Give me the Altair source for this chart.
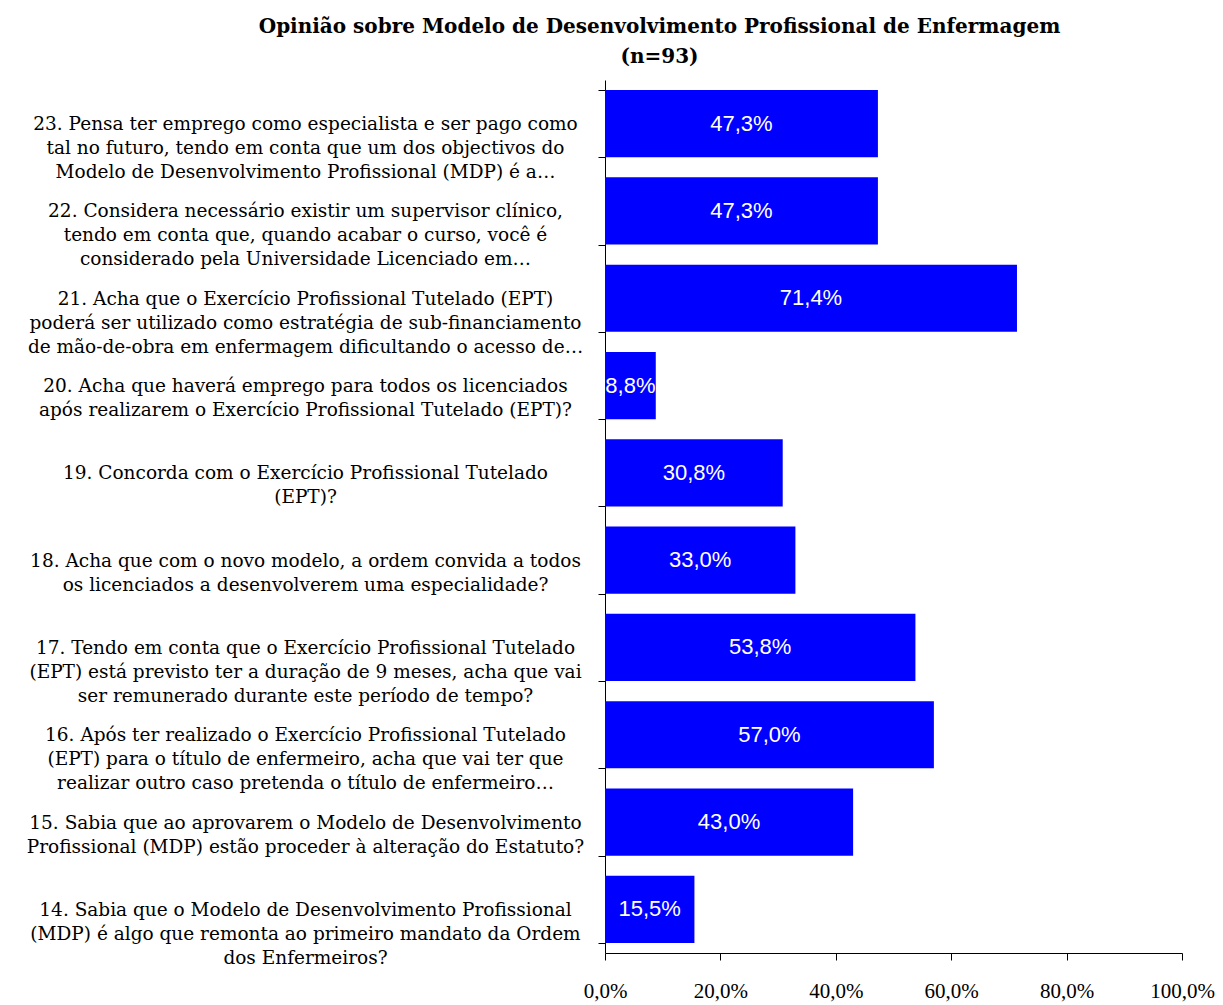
import altair as alt
import pandas as pd

questions = [
    "23. Pensa ter emprego como especialista e ser pago como|tal no futuro, tendo em conta que um dos objectivos do|Modelo de Desenvolvimento Profissional (MDP) é a…",
    "22. Considera necessário existir um supervisor clínico,|tendo em conta que, quando acabar o curso, você é|considerado pela Universidade Licenciado em…",
    "21. Acha que o Exercício Profissional Tutelado (EPT)|poderá ser utilizado como estratégia de sub-financiamento|de mão-de-obra em enfermagem dificultando o acesso de…",
    "20. Acha que haverá emprego para todos os licenciados|após realizarem o Exercício Profissional Tutelado (EPT)?",
    "19. Concorda com o Exercício Profissional Tutelado|(EPT)?",
    "18. Acha que com o novo modelo, a ordem convida a todos|os licenciados a desenvolverem uma especialidade?",
    "17. Tendo em conta que o Exercício Profissional Tutelado|(EPT) está previsto ter a duração de 9 meses, acha que vai|ser remunerado durante este período de tempo?",
    "16. Após ter realizado o Exercício Profissional Tutelado|(EPT) para o título de enfermeiro, acha que vai ter que|realizar outro caso pretenda o título de enfermeiro…",
    "15. Sabia que ao aprovarem o Modelo de Desenvolvimento|Profissional (MDP) estão proceder à alteração do Estatuto?",
    "14. Sabia que o Modelo de Desenvolvimento Profissional|(MDP) é algo que remonta ao primeiro mandato da Ordem|dos Enfermeiros?",
]
percent = [47.3, 47.3, 71.4, 8.8, 30.8, 33.0, 53.8, 57.0, 43.0, 15.5]
x_ticks = [0.0, 0.2, 0.4, 0.6, 0.8, 1.0]

df = pd.DataFrame({"q": questions, "p": [v / 100 for v in percent]})
df["lab"] = [f"{v:.1f}%".replace(".", ",") for v in percent]
df["mid"] = df["p"] / 2

serif = "DejaVu Serif"

y_axis = alt.Axis(
    labelExpr="split(datum.label, '|')",
    labelAlign="center",
    labelBaseline="middle",
    labelPadding=293,
    labelLimit=0,
    labelFont=serif,
    labelFontSize=18.5,
    labelLineHeight=24,
    labelColor="#000000",
    tickBand="extent",
    tickSize=7,
    tickColor="#000000",
    domainColor="#000000",
    grid=False,
    title=None,
)
y_scale = alt.Scale(paddingInner=0.23, paddingOuter=0.115)

x_axis = alt.Axis(
    values=x_ticks,
    labelExpr="replace(format(datum.value, '.1%'), '.', ',')",
    labelAlign="center",
    labelFlush=False,
    labelFont="Liberation Serif",
    labelFontSize=21,
    labelColor="#000000",
    labelPadding=20,
    tickSize=7,
    tickColor="#000000",
    domainColor="#000000",
    grid=False,
    title=None,
)
x_scale = alt.Scale(domain=[0, 1], nice=False)

bars = alt.Chart(df).mark_bar(color="#0000FF").encode(
    x=alt.X("p:Q", title=None, scale=x_scale, axis=x_axis),
    y=alt.Y("q:N", sort=questions, title=None, scale=y_scale, axis=y_axis),
)

texts = alt.Chart(df).mark_text(
    color="#FFFFFF", font="Liberation Sans", fontSize=22, align="center", baseline="middle"
).encode(
    x=alt.X("mid:Q", title=None, scale=x_scale, axis=x_axis),
    y=alt.Y("q:N", sort=questions, title=None, scale=y_scale, axis=y_axis),
    text="lab:N",
)

chart = (
    alt.layer(bars, texts)
    .properties(
        width=577,
        height=873,
        autosize=alt.AutoSizeParams(type="none"),
        padding={"left": 597, "top": 72, "right": 33, "bottom": 60},
        title=alt.TitleParams(
            text=["Opinião sobre Modelo de Desenvolvimento Profissional de Enfermagem", "(n=93)"],
            font=serif,
            fontSize=20,
            fontWeight="bold",
            color="#000000",
            anchor="middle",
            dx=-234,
            offset=4,
            lineHeight=30,
        ),
    )
    .configure_view(stroke=None)
)

chart.save("out.html", embed_options={"renderer": "svg", "actions": False})
